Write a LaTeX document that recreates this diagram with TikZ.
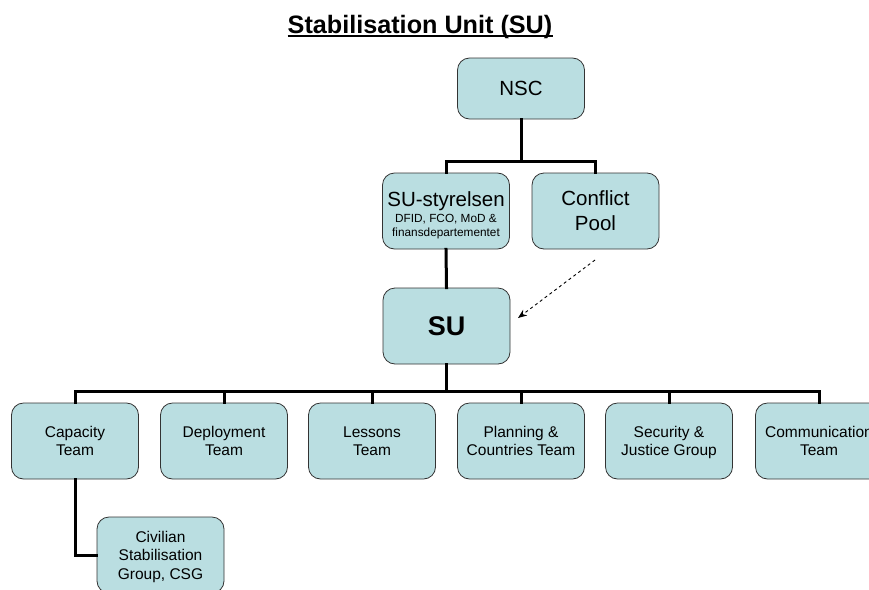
\documentclass[tikz,border=0pt]{standalone}
\usepackage{fontspec}
\setmainfont{Liberation Sans}
\usetikzlibrary{arrows.meta}
\definecolor{boxfill}{RGB}{186,222,225}
\tikzset{
  box/.style={draw=black!80, line width=0.8pt, fill=boxfill, rounded corners=12pt,
    minimum width=127pt, minimum height=76pt, align=center, inner sep=0pt,
    font=\fontsize{15.5}{18.5}\selectfont},
  bigtxt/.style={font=\fontsize{20.5}{25}\selectfont},
  smalltxt/.style={inner sep=0pt, anchor=base, font=\fontsize{11.8}{14}\selectfont},
  conn/.style={line width=3pt, line join=miter, line cap=rect},
}
\begin{document}
\begin{tikzpicture}[x=1pt,y=-1pt]
\useasboundingbox (0,0) rectangle (869,589);
\clip (0,0) rectangle (869,589);
\node[inner sep=0pt, anchor=base, font=\bfseries\fontsize{25.2}{30}\selectfont] (title) at (420,33) {Stabilisation Unit (SU)};
\draw[line width=2.2pt] ([yshift=-2.8pt]title.base west) -- ([yshift=-2.8pt]title.base east);

\node[box, bigtxt, minimum height=61pt] (nsc) at (521,88.5) {NSC};
\node[box] (sty) at (446,211) {};
\node[inner sep=0pt, anchor=base, font=\fontsize{20.5}{22}\selectfont] (styA) at (446,206) {SU-styrelsen};
\node[smalltxt] (styB) at (446,222.5) {DFID, FCO, MoD \&};
\node[smalltxt] (styC) at (446,236.5) {finansdepartementet};
\node[box, bigtxt] (cp) at (595.5,211) {Conflict\\Pool};
\node[box, font=\bfseries\fontsize{27}{30}\selectfont] (su) at (446.5,326) {SU};

\node[box] (cap) at (75,441) {Capacity\\Team};
\node[box] (dep) at (224,441) {Deployment\\Team};
\node[box] (les) at (372,441) {Lessons\\Team};
\node[box] (plan) at (521,441) {Planning \&\\Countries Team};
\node[box] (sec) at (669,441) {Security \&\\\smash{Justice Group}};
\node[box] (comm) at (819,441) {Communication\\Team};
\node[box] (csg) at (160.5,555) {Civilian\\Stabilisation\\\smash{Group, CSG}};

\coordinate (j1) at (521,161.5);
\coordinate (j2) at (446.5,391.5);
\draw[conn] (nsc.south) -- (j1);
\draw[conn] (sty.north) |- (j1) -| (cp.north);
\draw[conn] (sty.south) -- (su.north);
\draw[conn] (su.south) -- (j2);
\draw[conn] (cap.north) |- (j2) -| (comm.north);
\foreach \n in {dep,les,plan,sec} \draw[conn] (\n.north) -- (\n.north |- j2);
\draw[conn] (cap.south) |- (csg.west);

\coordinate (a1) at (595,260);
\coordinate (a2) at (518,318);
\draw[dashed, line width=0.9pt, -{Stealth[length=9pt,width=7pt]}] (a1) -- (a2);
\end{tikzpicture}
\end{document}
